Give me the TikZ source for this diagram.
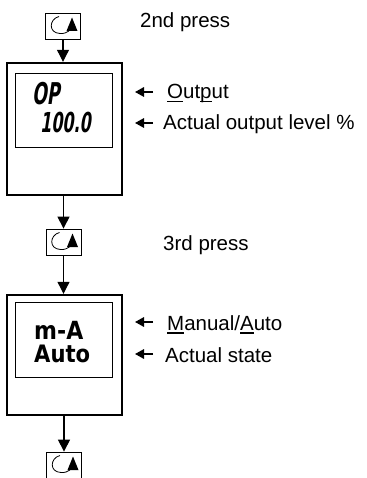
\documentclass[tikz,border=0pt]{standalone}
\usepackage{fontspec}
\setmainfont{Liberation Sans}
\newfontfamily\lcd[FakeStretch=0.58,FakeSlant=0.15]{DejaVu Sans Bold}
\newfontfamily\lcdup[FakeStretch=0.88]{DejaVu Sans Bold}
\usetikzlibrary{arrows.meta}
\newcommand\ulin[1]{\setbox0\hbox{#1}\rlap{\rule[-3.5pt]{\wd0}{1.5pt}}#1}
\tikzset{
  keybox/.style={draw, line width=0.8pt, minimum width=35pt, minimum height=26pt, inner sep=0pt},
  outerbox/.style={draw, line width=2.4pt, minimum width=115pt, inner sep=0pt},
  innerbox/.style={draw, line width=0.8pt, inner sep=0pt},
  conn/.style={line width=1.1pt, -{Triangle[length=12pt,width=12pt]}},
  ptr/.style={line width=1.6pt, -{Triangle[length=9pt,width=9.5pt]}},
  lab/.style={anchor=base west, inner sep=0pt, font=\fontsize{20.5}{24}\selectfont},
  keyicon/.pic={
    \draw[line width=0.8pt] (-4,-9.5) .. controls (-14,-7) and (-15,7) .. (-3,7.5)
       .. controls (1,7.8) and (4,6.5) .. (6,5);
    \fill (9,-8.5) -- (14.5,5) -- (3.5,5) -- cycle;
  }
}
\begin{document}
\begin{tikzpicture}[x=1pt,y=-1pt]
\useasboundingbox (0,0) rectangle (366,478);
% keys
\node[keybox] (k1) at (63,26) {};
\pic at (k1.center) {keyicon};
\node[keybox] (k2) at (63.5,242) {};
\pic at (k2.center) {keyicon};
\node[keybox] (k3) at (64,465) {};
\pic at (k3.center) {keyicon};
% outer boxes
\node[outerbox, minimum height=132pt] (o1) at (64.5,129) {};
\node[innerbox, minimum width=97pt, minimum height=74pt] (i1) at (63.5,110) {};
\node[outerbox, minimum height=120pt] (o2) at (64.5,355) {};
\node[innerbox, minimum width=97pt, minimum height=75pt] (i2) at (63.5,339.5) {};
% display texts
\node[anchor=base west, inner sep=0pt, font=\lcd\fontsize{30}{30}\selectfont] (t1) at (32,105) {OP};
\node[anchor=base west, inner sep=0pt, font=\lcd\fontsize{27.5}{28}\selectfont] (t2) at (40,133) {100.0};
\node[anchor=base west, inner sep=0pt, font=\lcdup\fontsize{25}{25}\selectfont] (t3) at (34,339) {m-A};
\node[anchor=base west, inner sep=0pt, font=\lcdup\fontsize{24}{24}\selectfont] (t4) at (34,362) {Auto};
% connectors
\draw[conn] (k1.south) -- (k1.south |- o1.north);
\draw[conn] (k2.north |- o1.south) -- (k2.north);
\draw[conn] (k2.south) -- (k2.south |- o2.north);
\draw[conn] (k3.north |- o2.south) -- (k3.north);
% labels
\node[lab] (l1) at (140,28) {2nd press};
\node[lab] (l2) at (163,250) {3rd press};
\node[lab] (l3) at (167,99) {\ulin{O}ut\ulin{p}ut};
\node[lab] (l4) at (163,130) {Actual output level \%};
\node[lab] (l5) at (167,330) {\ulin{M}anual/\ulin{A}uto};
\node[lab] (l6) at (165,362) {Actual state};
% pointers
\coordinate (p3a) at (153,92); \coordinate (p3b) at (135,92);
\coordinate (p4a) at (153,123); \coordinate (p4b) at (135,123);
\coordinate (p5a) at (153,322); \coordinate (p5b) at (135,322);
\coordinate (p6a) at (153,354); \coordinate (p6b) at (135,354);
\draw[ptr] (p3a) -- (p3b);
\draw[ptr] (p4a) -- (p4b);
\draw[ptr] (p5a) -- (p5b);
\draw[ptr] (p6a) -- (p6b);
\end{tikzpicture}
\end{document}
